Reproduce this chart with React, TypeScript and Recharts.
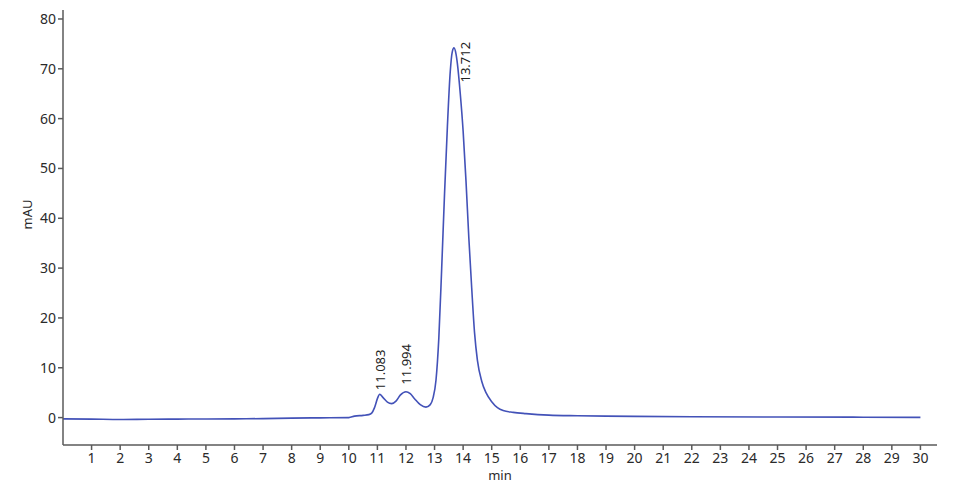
import React from "react";
import { LineChart, Line, XAxis, YAxis, ReferenceDot } from "recharts";

// Retention time (min)
const times: number[] = [
  0, 1, 2, 3, 4, 5, 6, 7, 8, 9, 10, 10.2, 10.5, 10.7, 10.8, 10.9, 11.0, 11.08,
  11.2, 11.35, 11.5, 11.65, 11.8, 12.0, 12.15, 12.3, 12.5, 12.7, 12.85, 12.95,
  13.05, 13.15, 13.25, 13.35, 13.45, 13.55, 13.62, 13.68, 13.75, 13.8, 13.9,
  14.0, 14.1, 14.2, 14.3, 14.4, 14.5, 14.65, 14.8, 15.0, 15.2, 15.4, 15.75,
  16.2, 17, 18, 19, 20, 22, 25, 28, 30,
];
// Absorbance (mAU)
const mAU: number[] = [
  -0.25, -0.3, -0.38, -0.32, -0.3, -0.28, -0.25, -0.2, -0.1, -0.05, 0.0, 0.3,
  0.45, 0.6, 0.9, 2.0, 3.8, 4.7, 4.0, 3.1, 2.8, 3.3, 4.5, 5.2, 4.8, 3.8, 2.6,
  2.1, 2.6, 4.0, 7.5, 16.0, 30.0, 45.0, 58.5, 69.5, 73.4, 74.2, 73.0, 71.0,
  65.0, 57.5, 47.5, 36.0, 26.0, 17.0, 11.5, 7.3, 5.0, 3.2, 2.0, 1.4, 1.05, 0.8,
  0.5, 0.38, 0.3, 0.25, 0.18, 0.12, 0.08, 0.05,
];

const peakTimes: number[] = [11.083, 11.994, 13.712];
const peakHeights: number[] = [4.7, 5.2, 74.2];
const peakLabels: string[] = ["11.083", "11.994", "13.712"];

const xTicks: number[] = [1, 2, 3, 4, 5, 6, 7, 8, 9, 10, 11, 12, 13, 14, 15, 16, 17, 18, 19, 20, 21, 22, 23, 24, 25, 26, 27, 28, 29, 30];
const yTicks: number[] = [0, 10, 20, 30, 40, 50, 60, 70, 80];

const data = times.map((t, i) => ({ t, v: mAU[i] }));

const FONT = "'Noto Sans', sans-serif";
const AXIS = "#5a5a5a";
const TXT = "#2a2a2a";

const labelStyle = [
  { dx: 5, dy: -4, anchor: "start" },
  { dx: 5, dy: -7, anchor: "start" },
  { dx: 15, dy: -6, anchor: "end" },
];

export default function App() {
  return (
    <LineChart
      width={944}
      height={477}
      data={data}
      margin={{ top: 2, right: 15, bottom: 2, left: 0 }}
    >
      <XAxis
        dataKey="t"
        type="number"
        domain={[0, 30.58]}
        ticks={xTicks}
        allowDataOverflow
        interval={0}
        height={38}
        tickSize={5}
        tickMargin={3}
        stroke={AXIS}
        strokeWidth={1.5}
        tick={{ fill: TXT, fontSize: 14, fontFamily: FONT }}
        label={{ value: "min", position: "insideBottom", offset: 3, fill: TXT, fontSize: 13, fontFamily: FONT }}
      />
      <YAxis
        type="number"
        domain={[-5.5, 81.8]}
        ticks={yTicks}
        allowDataOverflow
        interval={0}
        width={55}
        tickSize={5}
        tickMargin={2}
        stroke={AXIS}
        strokeWidth={1.5}
        tick={{ fill: TXT, fontSize: 14, fontFamily: FONT }}
        label={{
          content: (p: any) => {
            const vb = p.viewBox || { x: 0, y: 0, width: 0, height: 0 };
            const x = vb.x + 24;
            const y = vb.y + vb.height / 2 - 13;
            return (
              <text
                x={x}
                y={y}
                transform={`rotate(-90, ${x}, ${y})`}
                textAnchor="middle"
                fill={TXT}
                fontSize={13}
                fontFamily={FONT}
              >
                mAU
              </text>
            );
          },
        }}
      />
      <Line
        type="monotone"
        dataKey="v"
        stroke="#4352b8"
        strokeWidth={1.6}
        dot={false}
        isAnimationActive={false}
      />
      {peakTimes.map((pt, i) => (
        <ReferenceDot
          key={peakLabels[i]}
          x={pt}
          y={peakHeights[i]}
          r={1}
          shape={(p: any) => {
            const s = labelStyle[i];
            const x = p.cx + s.dx;
            const y = p.cy + s.dy;
            return (
              <text
                x={x}
                y={y}
                transform={`rotate(-90, ${x}, ${y})`}
                textAnchor={s.anchor as any}
                fill="#222"
                fontSize={13}
                fontFamily={FONT}
              >
                {peakLabels[i]}
              </text>
            );
          }}
        />
      ))}
    </LineChart>
  );
}
